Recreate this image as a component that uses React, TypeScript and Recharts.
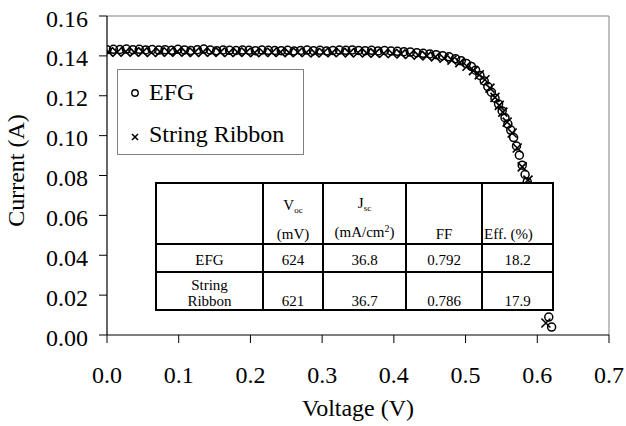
import React from 'react';
import { ScatterChart, Scatter, XAxis, YAxis, ReferenceLine, Legend } from 'recharts';

const FONT = '"Liberation Serif", "Times New Roman", Times, serif';

// ---- axis ticks ----
const xTicks = [0, 0.1, 0.2, 0.3, 0.4, 0.5, 0.6, 0.7];
const yTicks = [0, 0.02, 0.04, 0.06, 0.08, 0.1, 0.12, 0.14, 0.16];
const xTitle = 'Voltage (V)';
const yTitle = 'Current (A)';

// ---- series ----
const seriesNames = ['EFG', 'String Ribbon'];

const efgVoltage = [
  0.000, 0.009, 0.018, 0.027, 0.036, 0.045, 0.054, 0.063, 0.072, 0.081,
  0.090, 0.099, 0.108, 0.117, 0.126, 0.135, 0.144, 0.153, 0.162, 0.171,
  0.180, 0.189, 0.198, 0.207, 0.216, 0.225, 0.234, 0.243, 0.252, 0.261,
  0.270, 0.279, 0.288, 0.297, 0.306, 0.315, 0.324, 0.333, 0.342, 0.351,
  0.360, 0.369, 0.378, 0.387, 0.396, 0.405, 0.414, 0.423, 0.432, 0.441,
  0.450, 0.459, 0.468, 0.477, 0.486, 0.494, 0.501, 0.508, 0.514, 0.520,
  0.526, 0.531, 0.536, 0.541, 0.546, 0.551, 0.555, 0.559, 0.563, 0.567,
  0.571, 0.575, 0.579, 0.583, 0.586, 0.589, 0.592, 0.595, 0.598, 0.601,
  0.604, 0.607, 0.610, 0.613, 0.616, 0.620,
];
const efgCurrent = [
  0.1431, 0.1433, 0.1432, 0.1434, 0.1431, 0.1433, 0.1430, 0.1432, 0.1429, 0.1431,
  0.1428, 0.1433, 0.1430, 0.1427, 0.1431, 0.1434, 0.1429, 0.1426, 0.1430, 0.1428,
  0.1427, 0.1429, 0.1428, 0.1426, 0.1429, 0.1428, 0.1427, 0.1426, 0.1428, 0.1425,
  0.1427, 0.1429, 0.1426, 0.1428, 0.1425, 0.1427, 0.1429, 0.1428, 0.1430, 0.1427,
  0.1426, 0.1428, 0.1425, 0.1427, 0.1424, 0.1423, 0.1421, 0.1419, 0.1416, 0.1413,
  0.1410, 0.1406, 0.1401, 0.1395, 0.1386, 0.1375, 0.1362, 0.1347, 0.1328, 0.1302,
  0.1274, 0.1246, 0.1218, 0.1188, 0.1158, 0.1124, 0.1090, 0.1058, 0.1028, 0.0990,
  0.0948, 0.0902, 0.0852, 0.0805, 0.0768, 0.0730, 0.0680, 0.0620, 0.0555, 0.0485,
  0.0410, 0.0335, 0.0255, 0.0170, 0.0090, 0.0040,
];

const ribbonVoltage = [
  0.002, 0.014, 0.026, 0.038, 0.050, 0.062, 0.074, 0.086, 0.098, 0.110,
  0.122, 0.134, 0.146, 0.158, 0.170, 0.182, 0.194, 0.206, 0.218, 0.230,
  0.242, 0.254, 0.266, 0.278, 0.290, 0.302, 0.314, 0.326, 0.338, 0.350,
  0.362, 0.374, 0.386, 0.398, 0.410, 0.422, 0.434, 0.446, 0.458, 0.470,
  0.481, 0.492, 0.502, 0.511, 0.519, 0.527, 0.534, 0.541, 0.547, 0.552,
  0.558, 0.565, 0.572, 0.579, 0.587, 0.592, 0.597, 0.602, 0.606, 0.609,
  0.612,
];
const ribbonCurrent = [
  0.1420, 0.1418, 0.1421, 0.1419, 0.1420, 0.1417, 0.1420, 0.1418, 0.1421, 0.1419,
  0.1417, 0.1420, 0.1418, 0.1419, 0.1417, 0.1419, 0.1418, 0.1416, 0.1418, 0.1417,
  0.1419, 0.1416, 0.1418, 0.1417, 0.1415, 0.1417, 0.1416, 0.1418, 0.1415, 0.1417,
  0.1415, 0.1414, 0.1413, 0.1412, 0.1410, 0.1407, 0.1404, 0.1400, 0.1395, 0.1388,
  0.1379, 0.1366, 0.1348, 0.1326, 0.1305, 0.1280, 0.1238, 0.1192, 0.1152, 0.1118,
  0.1068, 0.1013, 0.0938, 0.0843, 0.0777, 0.0680, 0.0580, 0.0450, 0.0320, 0.0200,
  0.0060,
];

// ---- table ----
const tableRowLabels = ['EFG', 'String Ribbon'];
const tableVoc = ['624', '621'];
const tableJsc = ['36.8', '36.7'];
const tableFF = ['0.792', '0.786'];
const tableEff = ['18.2', '17.9'];

const efgData = efgVoltage.map((v, k) => ({ v, i: efgCurrent[k] }));
const ribbonData = ribbonVoltage.map((v, k) => ({ v, i: ribbonCurrent[k] }));

const CircleMark = (p: any) => (
  <circle cx={p.cx} cy={p.cy} r={4} fill="none" stroke="#000" strokeWidth={1.5} />
);
const CrossMark = (p: any) => {
  const s = 4.5;
  return (
    <path
      d={`M${p.cx - s},${p.cy - s}L${p.cx + s},${p.cy + s}M${p.cx + s},${p.cy - s}L${p.cx - s},${p.cy + s}`}
      stroke="#000"
      strokeWidth={1.6}
      fill="none"
    />
  );
};

const renderLegend = () => (
  <svg width={187} height={86} style={{ display: 'block' }}>
    <rect x={0.5} y={0.5} width={186} height={85} fill="#fff" stroke="#808080" strokeWidth={1} />
    <circle cx={18} cy={24} r={3.2} fill="none" stroke="#000" strokeWidth={1.4} />
    <text x={32} y={31} fontFamily={FONT} fontSize={24} fill="#000">{seriesNames[0]}</text>
    <path d="M15,65L21,71M21,65L15,71" stroke="#000" strokeWidth={1.5} />
    <text x={32} y={73} fontFamily={FONT} fontSize={24} fill="#000">{seriesNames[1]}</text>
  </svg>
);

const cellBase: React.CSSProperties = {
  background: '#fff',
  display: 'flex',
  flexDirection: 'column',
  alignItems: 'center',
  justifyContent: 'flex-end',
  lineHeight: '16px',
  overflow: 'visible',
  whiteSpace: 'nowrap',
};

const DataTable = () => {
  const headerPad = { paddingBottom: 1 };
  const cells: React.ReactNode[] = [];
  cells.push(<div key="h0" style={cellBase} />);
  cells.push(
    <div key="h1" style={{ ...cellBase, ...headerPad }}>
      <div>V<span style={{ fontSize: 9, position: 'relative', top: 3 }}>oc</span></div>
      <div style={{ marginTop: 11 }}>(mV)</div>
    </div>
  );
  cells.push(
    <div key="h2" style={{ ...cellBase, ...headerPad }}>
      <div>J<span style={{ fontSize: 9, position: 'relative', top: 3 }}>sc</span></div>
      <div style={{ marginTop: 11 }}>
        (mA/cm<span style={{ fontSize: 10, position: 'relative', top: -5 }}>2</span>)
      </div>
    </div>
  );
  cells.push(<div key="h3" style={{ ...cellBase, ...headerPad }}>FF</div>);
  cells.push(
    <div key="h4" style={{ ...cellBase, ...headerPad, alignItems: 'flex-start', paddingLeft: 1 }}>Eff. (%)</div>
  );
  tableRowLabels.forEach((label, r) => {
    const pad = r === 0 ? { paddingBottom: 3 } : { paddingBottom: 0 };
    cells.push(
      <div key={`l${r}`} style={{ ...cellBase, ...pad }}>
        {label.split(' ').map((w, k) => (
          <div key={k}>{w}</div>
        ))}
      </div>
    );
    [tableVoc[r], tableJsc[r], tableFF[r], tableEff[r]].forEach((val, c) => {
      cells.push(
        <div key={`c${r}-${c}`} style={{ ...cellBase, ...pad }}>
          {val}
        </div>
      );
    });
  });
  return (
    <div
      style={{
        position: 'absolute',
        left: 155,
        top: 182,
        width: 399,
        height: 129,
        boxSizing: 'border-box',
        padding: 2,
        background: '#000',
        display: 'grid',
        gridTemplateColumns: '105px 58px 81px 74px 69px',
        gridTemplateRows: '59px 26px 36px',
        gap: 2,
        fontFamily: FONT,
        fontSize: 15,
        color: '#000',
      }}
    >
      {cells}
    </div>
  );
};

export default function App() {
  return (
    <div style={{ position: 'absolute', left: 0, top: 0, width: 626, height: 426, background: '#fff' }}>
      <ScatterChart
        width={626}
        height={426}
        margin={{ top: 16, right: 17, left: 0, bottom: 0 }}
        style={{ fontFamily: FONT }}
      >
        <XAxis
          type="number"
          dataKey="v"
          domain={[0, 0.7]}
          ticks={xTicks}
          tickFormatter={(t: number) => t.toFixed(1)}
          height={91}
          tickSize={8}
          tickMargin={23}
          axisLine={{ stroke: '#000', strokeWidth: 1.2 }}
          tickLine={{ stroke: '#000' }}
          tick={{ fontSize: 24, fontFamily: FONT, fill: '#000' }}
          allowDataOverflow
          label={{
            value: xTitle,
            content: (props: any) => {
              const vb = props.viewBox || { x: 107, y: 335, width: 502 };
              return (
                <text x={vb.x + vb.width / 2} y={vb.y + 81} textAnchor="middle" fontFamily={FONT} fontSize={24} fill="#000">
                  {xTitle}
                </text>
              );
            },
          }}
        />
        <YAxis
          type="number"
          dataKey="i"
          domain={[0, 0.16]}
          ticks={yTicks}
          tickFormatter={(t: number) => t.toFixed(2)}
          width={107}
          tickSize={8}
          tickMargin={11}
          axisLine={{ stroke: '#000', strokeWidth: 1.2 }}
          tickLine={{ stroke: '#000' }}
          tick={{ fontSize: 24, fontFamily: FONT, fill: '#000', dy: 2 }}
          allowDataOverflow
          label={{
            value: yTitle,
            content: (props: any) => {
              const vb = props.viewBox || { x: 0, y: 16, height: 319 };
              const cx = vb.x + 24;
              const cy = vb.y + vb.height / 2 - 5;
              return (
                <text x={cx} y={cy} transform={`rotate(-90 ${cx} ${cy})`} textAnchor="middle" fontFamily={FONT} fontSize={24} fill="#000">
                  {yTitle}
                </text>
              );
            },
          }}
        />
        <ReferenceLine y={0.16} stroke="#808080" strokeWidth={1} />
        <ReferenceLine x={0.7} stroke="#808080" strokeWidth={1} />
        <Scatter name={seriesNames[0]} data={efgData} shape={CircleMark} isAnimationActive={false} />
        <Scatter name={seriesNames[1]} data={ribbonData} shape={CrossMark} isAnimationActive={false} />
        <Legend
          layout="vertical"
          align="center"
          verticalAlign="middle"
          content={renderLegend}
          wrapperStyle={{ position: 'absolute', left: 117, top: 69, width: 187, height: 86, right: 'auto', bottom: 'auto' }}
        />
      </ScatterChart>
      <DataTable />
    </div>
  );
}
